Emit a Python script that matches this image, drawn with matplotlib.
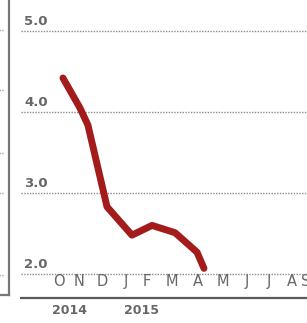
import matplotlib.pyplot as plt

# monthly positions (0 = Oct 2014) and rate values
month_pos = [0.17, 0.9, 1.24, 2.06, 3.13, 3.99, 4.98, 5.92, 6.22]
rate = [4.42, 4.05, 3.84, 2.83, 2.48, 2.60, 2.51, 2.27, 2.07]

month_labels = ['O', 'N', 'D', 'J', 'F', 'M', 'A', 'M', 'J', 'J', 'A', 'S']
month_label_x = [0, 0.85, 1.84, 2.87, 3.76, 4.83, 5.94, 7.02, 8.05, 9.0, 9.98, 10.6]
grid_values = [2.0, 3.0, 4.0, 5.0]
years = ['2014', '2015']
year_x = [0.47, 3.56]

# left neighbour panel gridline stubs (pixel rows)
left_stub_y = [30, 90, 153, 193, 275]

W, H = 307, 323
fig = plt.figure(figsize=(W / 100, H / 100), dpi=100)

gray_txt = '#676767'
axis_col = '#5a5a5a'

# main panel: x from 21px to right edge, y from 0 to 298px
ax = fig.add_axes([21 / W, (H - 298) / H, 1 - 21 / W, 298 / H])
ax.set_xlim(-1.63, 10.64)
ax.set_ylim(1.704, 5.383)
for s in ['top', 'right', 'left']:
    ax.spines[s].set_visible(False)
ax.spines['bottom'].set_color(axis_col)
ax.spines['bottom'].set_linewidth(1.6)
ax.set_xticks([])
ax.set_yticks([])

for g in grid_values:
    ax.axhline(g, color='#8a8a8a', lw=1.0, ls=(0, (1, 1)), zorder=1)
    ax.text(-1.5, g + 0.04, f'{g:.1f}', color=gray_txt, fontsize=9.5,
            fontweight='bold', ha='left', va='bottom')

ax.plot(month_pos, rate, color='#a31b1b', lw=5, solid_capstyle='round',
        solid_joinstyle='round', zorder=3)

for x, lab in zip(month_label_x, month_labels):
    ax.text(x, 1.91, lab, color=gray_txt, fontsize=10.5, ha='center',
            va='center', clip_on=False)

for x, y in zip(year_x, years):
    ax.text(x, 1.55, y, color=gray_txt, fontsize=9, fontweight='bold',
            ha='center', va='center', clip_on=False)

# partial left panel border
left = fig.add_axes([-50 / W, (H - 295) / H, 59 / W, 295 / H])
left.set_xlim(0, 59)
left.set_ylim(295, 0)
for s in ['top', 'left']:
    left.spines[s].set_visible(False)
for s in ['right', 'bottom']:
    left.spines[s].set_color('#777777')
    left.spines[s].set_linewidth(1.6)
left.set_xticks([])
left.set_yticks([])
left.patch.set_alpha(0)
for yy in left_stub_y:
    left.plot([48, 53], [yy, yy], color='#a0a0a0', lw=1.0, ls=(0, (1, 1)))

fig.savefig('out.png', dpi=100)
